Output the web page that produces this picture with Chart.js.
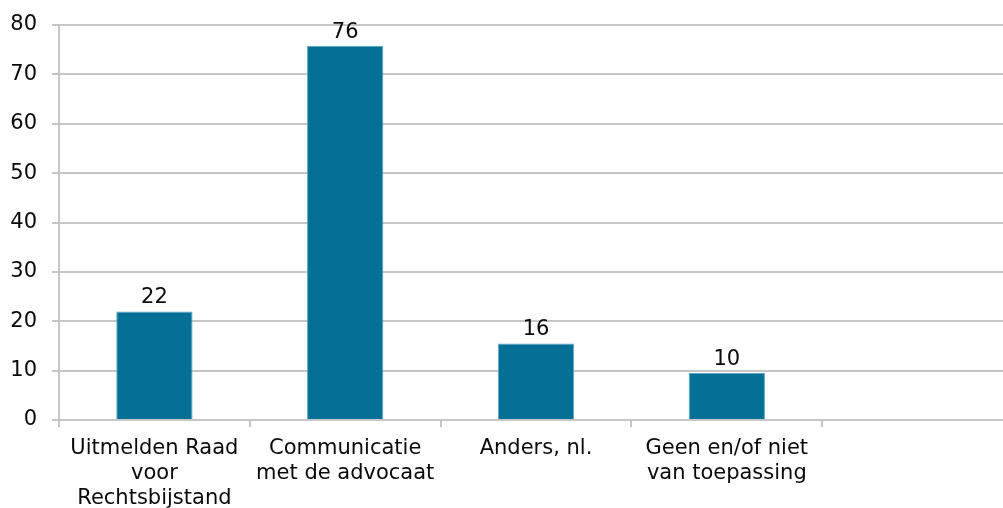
<!DOCTYPE html>
<html>
<head>
<meta charset="utf-8">
<script src="https://cdn.jsdelivr.net/npm/chart.js@4"></script>
<style>
  html, body { margin: 0; padding: 0; overflow: hidden; background: #fff; }
  #chartContainer { width: 1013px; height: 508px; }
</style>
</head>
<body>
<div id="chartContainer"><canvas id="Chart1" width="1013" height="508"></canvas></div>
<script>
// chart data
const categories = [
    ['Uitmelden Raad', 'voor', 'Rechtsbijstand'],
    ['Communicatie', 'met de advocaat'],
    'Anders, nl.',
    ['Geen en/of niet', 'van toepassing'],
    ''
];
const values = [22, 75.8, 15.5, 9.5, null];
const valueLabels = ['22', '76', '16', '10', ''];
const yTicks = [0, 10, 20, 30, 40, 50, 60, 70, 80];

const gridColor = '#c6c6c6';
const textColor = '#0a0a0a';
const fontFamily = '"DejaVu Sans", Verdana, sans-serif';

// draws the number above each bar
const barLabels = {
    id: 'barLabels',
    afterDatasetsDraw(chart) {
        const ctx = chart.ctx;
        const meta = chart.getDatasetMeta(0);
        ctx.save();
        ctx.font = '21px ' + fontFamily;
        ctx.fillStyle = textColor;
        ctx.textAlign = 'center';
        ctx.textBaseline = 'alphabetic';
        meta.data.forEach((bar, i) => {
            if (values[i] === null) return;
            ctx.fillText(valueLabels[i], bar.x, bar.y - 8);
        });
        ctx.restore();
    }
};

let ctx = document.getElementById('Chart1').getContext('2d');
let Chart1 = new Chart(ctx, {
    type: 'bar',
    data: {
        labels: categories,
        datasets: [{
            data: values,
            backgroundColor: '#056f96',
            borderColor: '#5ea6c6',
            borderWidth: 1,
            barPercentage: 0.8,
            categoryPercentage: 0.5
        }]
    },
    options: {
        responsive: false,
        animation: false,
        layout: { padding: { top: 25, left: 0, right: 0, bottom: 0 } },
        plugins: {
            legend: { display: false },
            tooltip: { enabled: false }
        },
        scales: {
            x: {
                grid: {
                    offset: true,
                    drawOnChartArea: false,
                    drawTicks: true,
                    tickLength: 7,
                    color: gridColor,
                    lineWidth: 2
                },
                border: { display: true, color: gridColor, width: 2 },
                ticks: {
                    color: textColor,
                    font: { family: fontFamily, size: 21, lineHeight: 1.2 },
                    padding: 9,
                    maxRotation: 0,
                    autoSkip: false
                },
                afterFit(scale) { scale.height = 88; scale.paddingLeft = 0; scale.paddingRight = 0; }
            },
            y: {
                min: 0,
                max: 80,
                afterBuildTicks(scale) { scale.ticks = yTicks.map(v => ({ value: v })); },
                grid: {
                    color: gridColor,
                    lineWidth: 2,
                    tickLength: 7
                },
                border: { display: true, color: gridColor, width: 2 },
                ticks: {
                    color: textColor,
                    font: { family: fontFamily, size: 21 },
                    padding: 15
                },
                afterFit(scale) { scale.width = 59; scale.paddingTop = 0; scale.paddingBottom = 0; }
            }
        }
    },
    plugins: [barLabels]
});
</script>
</body>
</html>
